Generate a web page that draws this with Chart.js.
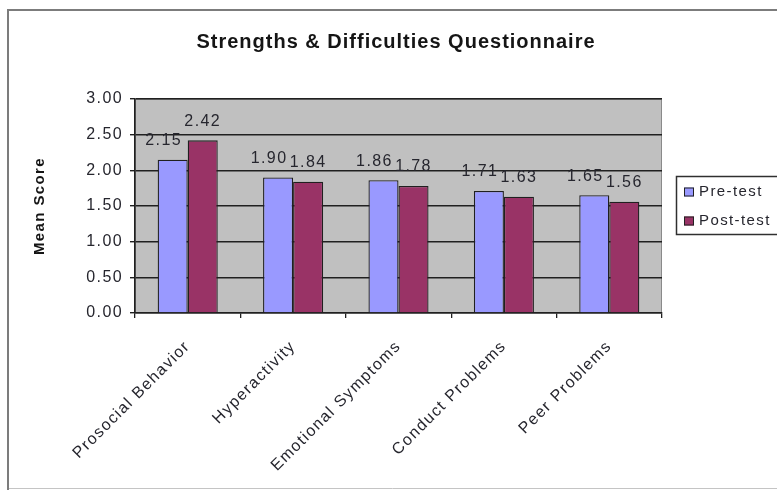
<!DOCTYPE html>
<html>
<head>
<meta charset="utf-8">
<title>Strengths &amp; Difficulties Questionnaire</title>
<style>
  html, body { margin: 0; padding: 0; background: #ffffff; }
  canvas { display: block; }
</style>
<script src="https://cdn.jsdelivr.net/npm/chart.js@4.4.0/dist/chart.umd.min.js"></script>
</head>
<body>
<canvas id="sdq" width="777" height="490"></canvas>
<script>
// ---- data ----
const chartTitle = 'Strengths & Difficulties Questionnaire';
const axisTitle = 'Mean Score';
const categories = ['Prosocial Behavior', 'Hyperactivity', 'Emotional Symptoms', 'Conduct Problems', 'Peer Problems'];
const seriesNames = ['Pre-test', 'Post-test'];
const preTest = [2.15, 1.90, 1.86, 1.71, 1.65];
const postTest = [2.42, 1.84, 1.78, 1.63, 1.56];
const yMin = 0;
const yMax = 3;
const yStep = 0.5;

// ---- styling ----
const FONT = "'Liberation Sans', Arial, sans-serif";
const TEXT = '#26262e';
const SPACING = '1.4px';
const PRE_COLOR = '#9999ff';
const POST_COLOR = '#993366';
const PLOT_BG = '#c0c0c0';
const LINE = '#202020';

// slightly widened letter spacing for all canvas text
const spacingPlugin = {
  id: 'spacing',
  beforeLayout(chart) { chart.ctx.letterSpacing = SPACING; },
  beforeDraw(chart) { chart.ctx.letterSpacing = SPACING; }
};

// white page, outer frame and grey plot background
const framePlugin = {
  id: 'frame',
  beforeDraw(chart) {
    const { ctx, chartArea: a, width, height } = chart;
    ctx.save();
    ctx.fillStyle = '#ffffff';
    ctx.fillRect(0, 0, width, height);
    // outer chart frame
    ctx.strokeStyle = '#c4c4c4';
    ctx.lineWidth = 1;
    ctx.beginPath();
    ctx.moveTo(8, 488.5);
    ctx.lineTo(width, 488.5);
    ctx.stroke();
    ctx.strokeStyle = '#7c7c7c';
    ctx.lineWidth = 2;
    ctx.beginPath();
    ctx.moveTo(8, height);
    ctx.lineTo(8, 10);
    ctx.lineTo(width, 10);
    ctx.stroke();
    // plot area
    ctx.fillStyle = PLOT_BG;
    ctx.fillRect(a.left, a.top, a.right - a.left, a.bottom - a.top);
    ctx.strokeStyle = '#8a8a8a';
    ctx.lineWidth = 1;
    ctx.strokeRect(a.left + 0.5, a.top + 0.5, a.right - a.left - 1, a.bottom - a.top - 1);
    ctx.restore();
  },
  afterDraw(chart) {
    const { ctx } = chart;
    ctx.save();
    // chart title
    ctx.letterSpacing = '1px';
    ctx.fillStyle = '#151515';
    ctx.font = "bold 20px " + FONT;
    ctx.textAlign = 'center';
    ctx.textBaseline = 'middle';
    ctx.fillText(chartTitle, 396, 42);
    // legend box
    ctx.letterSpacing = SPACING;
    const lx = 676, ly = 176, lh = 58;
    ctx.fillStyle = '#ffffff';
    ctx.fillRect(lx, ly, chart.width - lx, lh);
    ctx.strokeStyle = '#303030';
    ctx.lineWidth = 1.5;
    ctx.strokeRect(lx + 0.5, ly + 0.5, chart.width - lx + 5, lh);
    const colors = [PRE_COLOR, POST_COLOR];
    ctx.font = "15px " + FONT;
    ctx.textAlign = 'left';
    seriesNames.forEach((name, i) => {
      const cy = ly + 16 + i * 29;
      ctx.fillStyle = colors[i];
      ctx.fillRect(684, cy - 4.5, 10, 9);
      ctx.strokeStyle = '#222';
      ctx.lineWidth = 1;
      ctx.strokeRect(684.5, cy - 4, 9, 8);
      ctx.fillStyle = TEXT;
      ctx.fillText(name, 699, cy);
    });
    ctx.restore();
  }
};

// value labels above each bar
const valueLabelPlugin = {
  id: 'valueLabels',
  afterDatasetsDraw(chart) {
    const { ctx } = chart;
    ctx.save();
    ctx.letterSpacing = SPACING;
    ctx.font = "16px " + FONT;
    ctx.fillStyle = TEXT;
    ctx.textAlign = 'center';
    ctx.textBaseline = 'middle';
    chart.data.datasets.forEach((ds, di) => {
      const meta = chart.getDatasetMeta(di);
      meta.data.forEach((bar, i) => {
        const shift = di === 0 ? -9 : 0;
        ctx.fillText(ds.data[i].toFixed(2), bar.x + shift, bar.y - 19);
      });
    });
    ctx.restore();
  }
};

new Chart(document.getElementById('sdq'), {
  type: 'bar',
  data: {
    labels: categories,
    datasets: [
      { label: seriesNames[0], data: preTest, backgroundColor: PRE_COLOR, borderColor: LINE, borderWidth: 1.3 },
      { label: seriesNames[1], data: postTest, backgroundColor: POST_COLOR, borderColor: LINE, borderWidth: 1.3 }
    ]
  },
  options: {
    responsive: false,
    animation: false,
    devicePixelRatio: 1,
    categoryPercentage: 0.57,
    barPercentage: 1,
    layout: { padding: { left: 30, top: 99, right: 115, bottom: 0 } },
    plugins: {
      legend: { display: false },
      title: { display: false },
      tooltip: { enabled: false }
    },
    scales: {
      x: {
        grid: { drawOnChartArea: false, drawTicks: true, tickLength: 5, color: LINE, lineWidth: 1.3, offset: true },
        border: { display: true, color: LINE, width: 1.6 },
        ticks: {
          autoSkip: false,
          minRotation: 45,
          maxRotation: 45,
          padding: 19,
          color: TEXT,
          font: { family: FONT, size: 16 }
        },
        afterFit(scale) { scale.height = 177; }
      },
      y: {
        min: yMin,
        max: yMax,
        grid: { drawOnChartArea: true, drawTicks: true, tickLength: 5, color: LINE, lineWidth: 1.4 },
        border: { display: true, color: LINE, width: 1.6 },
        ticks: {
          stepSize: yStep,
          padding: 7,
          color: TEXT,
          font: { family: FONT, size: 16 },
          callback: (v) => Number(v).toFixed(2)
        },
        title: {
          display: true,
          text: axisTitle,
          color: '#151515',
          font: { family: FONT, size: 15, weight: 'bold' },
          padding: { top: 1, bottom: 0 }
        },
        afterFit(scale) { scale.width = 105; }
      }
    }
  },
  plugins: [spacingPlugin, framePlugin, valueLabelPlugin]
});
</script>
</body>
</html>
